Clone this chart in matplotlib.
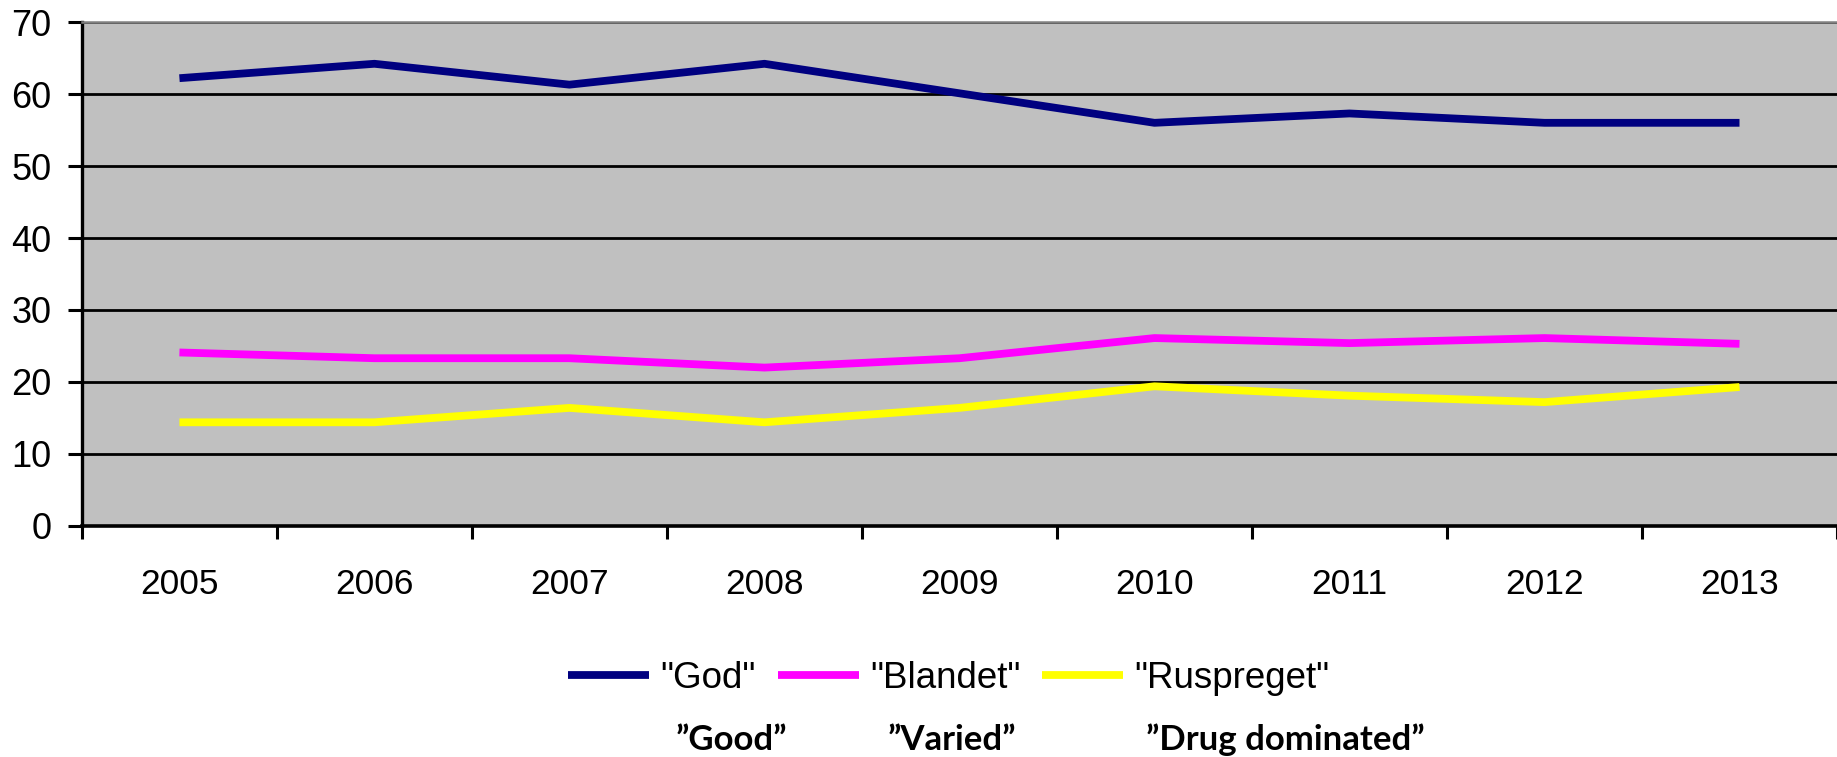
import matplotlib.pyplot as plt
from matplotlib.ticker import FixedLocator

years = ['2005', '2006', '2007', '2008', '2009', '2010', '2011', '2012', '2013']
god = [62.2, 64.2, 61.3, 64.2, 60.1, 56.0, 57.3, 56.0, 56.0]
blandet = [24.1, 23.3, 23.3, 22.0, 23.3, 26.1, 25.4, 26.1, 25.3]
ruspreget = [14.4, 14.4, 16.4, 14.4, 16.4, 19.4, 18.1, 17.2, 19.3]
labels_no = ['"God"', '"Blandet"', '"Ruspreget"']
labels_en = ['\u201dGood\u201d', '\u201dVaried\u201d', '\u201dDrug dominated\u201d']

plt.rcParams['font.family'] = ['Liberation Sans', 'DejaVu Sans']

fig = plt.figure(figsize=(18.37, 7.57), dpi=100)
ax = fig.add_axes([0.0446, 0.3052, 0.9554, 0.6657])
ax.set_facecolor('#c0c0c0')

x = range(len(years))
l1, = ax.plot(x, god, color='#000080', lw=5.6, solid_capstyle='butt')
l2, = ax.plot(x, blandet, color='#ff00ff', lw=5.6, solid_capstyle='butt')
l3, = ax.plot(x, ruspreget, color='#ffff00', lw=5.6, solid_capstyle='butt')

ax.set_xlim(-0.5, len(years) - 0.5)
ax.set_ylim(0, 70)
ax.set_yticks(range(0, 71, 10))
ax.yaxis.grid(True, color='black', lw=2.0)
ax.set_axisbelow(True)

ax.set_xticks(list(x))
ax.set_xticklabels(years)
ax.xaxis.set_minor_locator(FixedLocator([i - 0.5 for i in range(len(years) + 1)]))
ax.tick_params(axis='x', which='major', length=0, pad=30, labelsize=25.5)
ax.tick_params(axis='x', which='minor', length=9, width=2.2, color='black')
ax.tick_params(axis='y', length=10, width=2.2, pad=12, labelsize=26)

ax.spines['left'].set_linewidth(2.4)
ax.spines['bottom'].set_linewidth(2.6)
ax.spines['top'].set_color('#808080')
ax.spines['top'].set_linewidth(1.8)
ax.spines['right'].set_visible(False)

# legend in the Norwegian labels, English glosses underneath
fig.legend([l1, l2, l3], labels_no, loc='center', bbox_to_anchor=(0.5166, 0.1037),
           ncol=3, frameon=False, fontsize=26.5, handlelength=2.2,
           handletextpad=0.3, columnspacing=0.6, borderaxespad=0, borderpad=0)

en_x = [731, 952, 1285]
for xp, t in zip(en_x, labels_en):
    fig.text(xp / 1837, 1 - 740 / 757, t, ha='center', va='center',
             fontsize=25, fontweight='bold', family='Lato')

fig.savefig('out.png', dpi=100)
